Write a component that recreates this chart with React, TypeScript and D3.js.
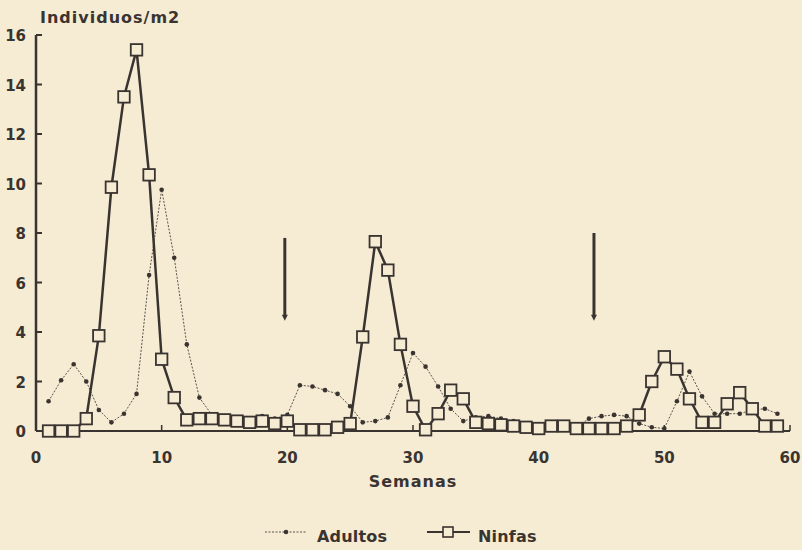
import React from 'react';
import * as d3 from 'd3';

// semanas 1..59
const weeks = d3.range(1, 60);

const ninfas = [
  0, 0, 0, 0.5, 3.85, 9.85, 13.5, 15.4, 10.35, 2.9,
  1.35, 0.45, 0.5, 0.5, 0.45, 0.4, 0.35, 0.4, 0.3, 0.4,
  0.05, 0.05, 0.05, 0.15, 0.3, 3.8, 7.65, 6.5, 3.5, 1.0,
  0.05, 0.7, 1.65, 1.3, 0.35, 0.3, 0.25, 0.2, 0.15, 0.1,
  0.2, 0.2, 0.1, 0.1, 0.1, 0.1, 0.2, 0.65, 2.0, 3.0,
  2.5, 1.3, 0.35, 0.35, 1.1, 1.55, 0.9, 0.2, 0.2,
];

const adultos = [
  1.2, 2.05, 2.7, 2.0, 0.85, 0.35, 0.7, 1.5, 6.3, 9.75,
  7.0, 3.5, 1.35, 0.65, 0.5, 0.45, 0.35, 0.6, 0.5, 0.65,
  1.85, 1.8, 1.65, 1.5, 1.0, 0.35, 0.4, 0.55, 1.85, 3.15,
  2.6, 1.8, 0.9, 0.4, 0.55, 0.6, 0.5, 0.4, 0.3, 0.25,
  0.3, 0.2, 0.15, 0.5, 0.6, 0.65, 0.6, 0.3, 0.15, 0.1,
  1.2, 2.4, 1.4, 0.7, 0.7, 0.7, 0.85, 0.9, 0.7,
];

const yTicks = [0, 2, 4, 6, 8, 10, 12, 14, 16];
const xTicks = [0, 10, 20, 30, 40, 50, 60];

// flechas verticales: semana, valor superior, valor inferior
const arrows = [
  { week: 19.8, top: 7.8, bottom: 4.5 },
  { week: 44.4, top: 8.0, bottom: 4.5 },
];

const ink = '#3a3431';
const paper = '#f6ebd3';
const font = '"DejaVu Sans", sans-serif';

export default function App() {
  const width = 802;
  const height = 550;

  const x = d3.scaleLinear().domain([0, 60]).range([36, 790]);
  const y = d3.scaleLinear().domain([0, 16]).range([431, 35]);

  const adultPts = weeks.map((w, i) => [w, adultos[i]] as [number, number]);
  const ninfaPts = weeks.map((w, i) => [w, ninfas[i]] as [number, number]);

  const line = d3.line<[number, number]>()
    .x(d => x(d[0]))
    .y(d => y(d[1]));

  const sq = 11.5;
  const txt = { fontFamily: font, fontWeight: 'bold' as const, fill: ink };

  return (
    <div style={{ position: 'absolute', left: 0, top: 0 }}>
      <svg width={width} height={height} style={{ display: 'block' }}>
        <rect width={width} height={height} fill={paper} />

        {/* eje y */}
        <line x1={x(0)} x2={x(0)} y1={y(16)} y2={y(0)} stroke={ink} strokeWidth={2.5} />
        {yTicks.map(t => (
          <g key={t}>
            <line x1={x(0)} x2={x(0) + 6} y1={y(t)} y2={y(t)} stroke={ink} strokeWidth={2} />
            <text x={x(0) - 10} y={y(t) + 6} textAnchor="end" fontSize={15} {...txt}>{t}</text>
          </g>
        ))}
        <text x={40} y={23} fontSize={16} letterSpacing={1} {...txt}>Individuos/m2</text>

        {/* eje x */}
        <line x1={x(0)} x2={x(60)} y1={y(0)} y2={y(0)} stroke={ink} strokeWidth={2} />
        {xTicks.map(t => (
          <g key={t}>
            {t > 0 && (
              <line x1={x(t)} x2={x(t)} y1={y(0)} y2={y(0) - 6} stroke={ink} strokeWidth={1.5} />
            )}
            <text x={x(t)} y={463} textAnchor="middle" fontSize={15} {...txt}>{t}</text>
          </g>
        ))}
        <text x={413} y={487} textAnchor="middle" fontSize={16} letterSpacing={1} {...txt}>Semanas</text>

        {/* flechas */}
        {arrows.map((a, i) => (
          <g key={i}>
            <line x1={x(a.week)} x2={x(a.week)} y1={y(a.top)} y2={y(a.bottom) - 3}
              stroke={ink} strokeWidth={3} />
            <path d={`M${x(a.week) - 3},${y(a.bottom) - 5} L${x(a.week) + 3},${y(a.bottom) - 5} L${x(a.week)},${y(a.bottom) + 1} Z`}
              fill={ink} />
          </g>
        ))}

        {/* adultos */}
        <path d={line(adultPts) || ''} fill="none" stroke="#5a524c" strokeWidth={1}
          strokeDasharray="2,1.5" />
        {adultPts.map((d, i) => (
          <circle key={i} cx={x(d[0])} cy={y(d[1])} r={2.3} fill={ink} />
        ))}

        {/* ninfas */}
        <path d={line(ninfaPts) || ''} fill="none" stroke={ink} strokeWidth={2.5} />
        {ninfaPts.map((d, i) => (
          <rect key={i} x={x(d[0]) - sq / 2} y={y(d[1]) - sq / 2} width={sq} height={sq}
            fill={paper} stroke={ink} strokeWidth={1.8} />
        ))}

        {/* leyenda */}
        <line x1={265} x2={307} y1={532} y2={532} stroke="#5a524c" strokeWidth={1} strokeDasharray="2,1.5" />
        <circle cx={286} cy={532} r={2.3} fill={ink} />
        <text x={317} y={542} fontSize={16} letterSpacing={0.2} {...txt}>Adultos</text>

        <line x1={427} x2={470} y1={532} y2={532} stroke={ink} strokeWidth={1.8} />
        <rect x={448 - 5} y={532 - 5} width={10} height={10} fill={paper} stroke={ink} strokeWidth={1.6} />
        <text x={478} y={542} fontSize={16} letterSpacing={0.2} {...txt}>Ninfas</text>
      </svg>
    </div>
  );
}
